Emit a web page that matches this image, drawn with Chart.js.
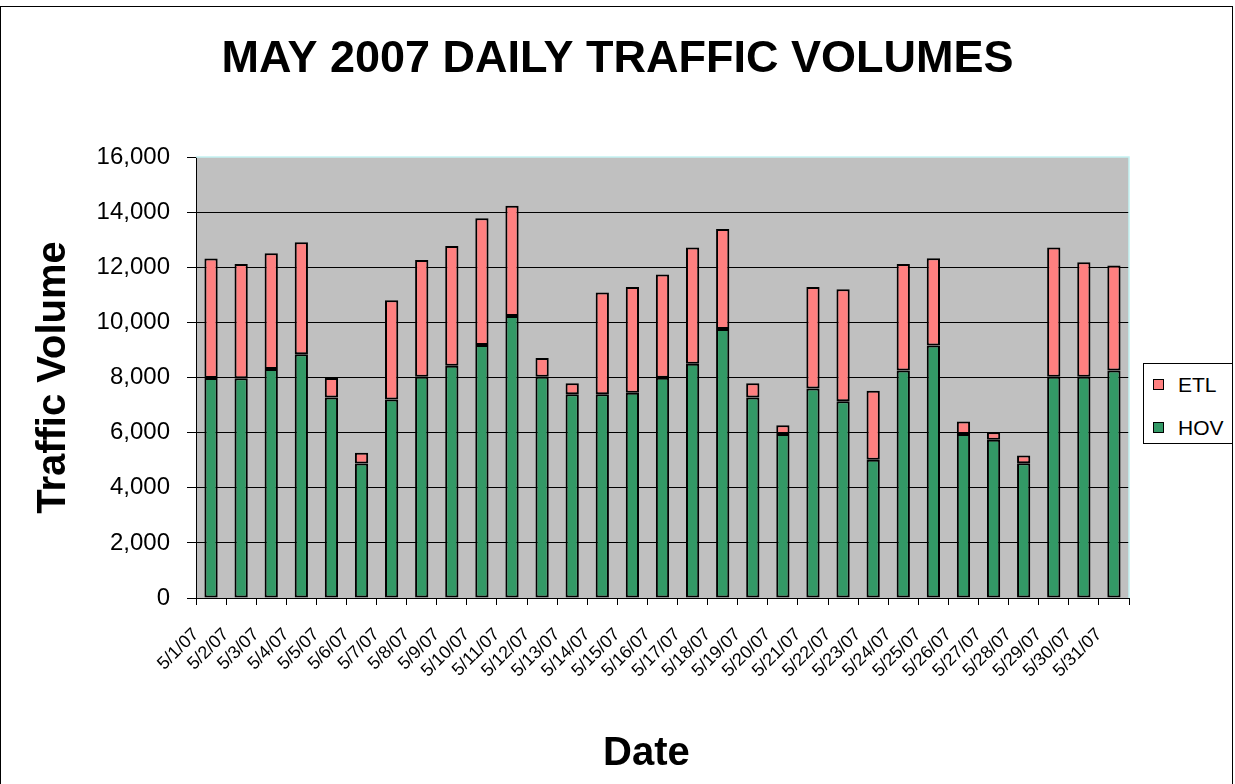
<!DOCTYPE html>
<html>
<head>
<meta charset="utf-8">
<script src="https://cdn.jsdelivr.net/npm/chart.js@4/dist/chart.umd.min.js"></script>
<style>
  body { margin: 0; background: #fff; }
  #wrap { position: relative; width: 1235px; height: 784px; overflow: hidden; font-family: 'Liberation Sans', Arial, sans-serif; }
  #frame { position: absolute; left: 0; top: 6px; width: 1231px; height: 800px; border: 1px solid #000; }
  #chart { position: absolute; left: 0; top: 0; }
  #xtitle { position: absolute; left: 603px; top: 727px; font-size: 40px; font-weight: bold; line-height: 48px; }
  #legend { position: absolute; left: 1143px; top: 363px; width: 88px; height: 79px; border: 1px solid #000; background: #fff; }
  .item { position: absolute; left: 9px; font-size: 21px; line-height: 21px; }
  .sw { position: absolute; left: 0; top: 5px; width: 9px; height: 9px; border: 1px solid #000; }
  .item span.t { position: absolute; left: 25px; top: 0; }
</style>
</head>
<body>
<div id="wrap">
  <div id="frame"></div>
  <canvas id="chart" width="1235" height="784"></canvas>
  <div id="xtitle">Date</div>
  <div id="legend">
    <div class="item" style="top:10px"><div class="sw" style="background:#FF8080"></div><span class="t">ETL</span></div>
    <div class="item" style="top:53px"><div class="sw" style="background:#339966"></div><span class="t">HOV</span></div>
  </div>
</div>
<script>
// May 2007 daily counts
const dates = ['5/1/07', '5/2/07', '5/3/07', '5/4/07', '5/5/07', '5/6/07', '5/7/07', '5/8/07',
    '5/9/07', '5/10/07', '5/11/07', '5/12/07', '5/13/07', '5/14/07', '5/15/07', '5/16/07',
    '5/17/07', '5/18/07', '5/19/07', '5/20/07', '5/21/07', '5/22/07', '5/23/07', '5/24/07',
    '5/25/07', '5/26/07', '5/27/07', '5/28/07', '5/29/07', '5/30/07', '5/31/07'];

const hovVolumes = [7980, 7970, 8310, 8840, 7270, 4880, 7200, 8030, 8430, 9180, 10230,
    8030, 7390, 7390, 7450, 7990, 8500, 9760, 7270, 5950, 7600, 7140, 5020, 8250, 9160,
    5950, 5740, 4890, 8030, 8030, 8250];

const etlVolumes = [4340, 4150, 4200, 4070, 710, 390, 3600, 4230, 4340, 4600, 4000,
    680, 400, 3690, 3830, 3750, 4220, 3630, 520, 320, 3680, 4060, 2500, 3870, 3170,
    450, 270, 280, 4690, 4150, 3810];

const yTicks = [0, 2000, 4000, 6000, 8000, 10000, 12000, 14000, 16000];

const FONT = "'Liberation Sans', Arial, sans-serif";

// grey plot area with pale frame on top/right, like the Excel original
const plotBackground = {
    id: 'plotBackground',
    beforeDraw(chart) {
        const { ctx, chartArea: a } = chart;
        ctx.save();
        ctx.fillStyle = '#C0C0C0';
        ctx.fillRect(a.left, a.top, a.right - a.left, a.bottom - a.top);
        ctx.restore();
    },
    afterDatasetsDraw(chart) {
        const { ctx, chartArea: a } = chart;
        ctx.save();
        ctx.strokeStyle = '#C4F2F2';
        ctx.lineWidth = 1.5;
        ctx.beginPath();
        ctx.moveTo(a.left, a.top);
        ctx.lineTo(a.right, a.top);
        ctx.lineTo(a.right, a.bottom);
        ctx.stroke();
        ctx.restore();
    }
};

new Chart('chart', {
    type: 'bar',
    data: {
        labels: dates,
        datasets: [{
            label: 'HOV',
            data: hovVolumes,
            backgroundColor: '#339966',
            borderColor: '#000',
            borderWidth: 2,
            borderSkipped: false
        }, {
            label: 'ETL',
            data: etlVolumes,
            backgroundColor: '#FF8080',
            borderColor: '#000',
            borderWidth: 2,
            borderSkipped: false
        }]
    },
    options: {
        responsive: false,
        animation: false,
        devicePixelRatio: 1,
        datasets: {
            bar: { barPercentage: 0.44, categoryPercentage: 1 }
        },
        layout: { padding: 0 },
        plugins: {
            legend: { display: false },
            tooltip: { enabled: false },
            title: {
                display: true,
                text: 'MAY 2007 DAILY TRAFFIC VOLUMES',
                color: '#000',
                font: { family: FONT, size: 45, weight: 'bold', lineHeight: 1.2 },
                padding: { top: 33, bottom: 70 }
            }
        },
        scales: {
            x: {
                stacked: true,
                offset: true,
                grid: {
                    offset: true,
                    drawOnChartArea: false,
                    color: '#000',
                    tickLength: 7
                },
                border: { color: '#000', width: 1 },
                ticks: {
                    color: '#000',
                    font: { family: FONT, size: 18 },
                    autoSkip: false,
                    minRotation: 45,
                    maxRotation: 45,
                    labelOffset: -15,
                    padding: 19
                },
                afterFit(scale) { scale.height = 186; }
            },
            y: {
                stacked: true,
                min: 0,
                max: 16000,
                afterBuildTicks(scale) { scale.ticks = yTicks.map(v => ({ value: v })); },
                grid: {
                    color: c => (c.tick && c.tick.value === 16000) ? 'rgba(0,0,0,0)' : '#000',
                    tickColor: '#000',
                    tickLength: 9
                },
                border: { color: '#000', width: 1 },
                ticks: {
                    color: '#000',
                    font: { family: FONT, size: 24 },
                    padding: 17,
                    callback: v => v.toLocaleString('en-US')
                },
                title: {
                    display: true,
                    text: 'Traffic Volume',
                    color: '#000',
                    font: { family: FONT, size: 40, weight: 'bold', lineHeight: 1.2 },
                    padding: { top: 30, bottom: 0 }
                },
                afterFit(scale) { scale.width = 196; }
            },
            // empty right-hand strip that holds the legend
            yRight: {
                type: 'linear',
                position: 'right',
                display: true,
                grid: { display: false },
                border: { display: false },
                ticks: { display: false },
                afterFit(scale) { scale.width = 106; }
            }
        }
    },
    plugins: [plotBackground]
});
</script>
</body>
</html>
